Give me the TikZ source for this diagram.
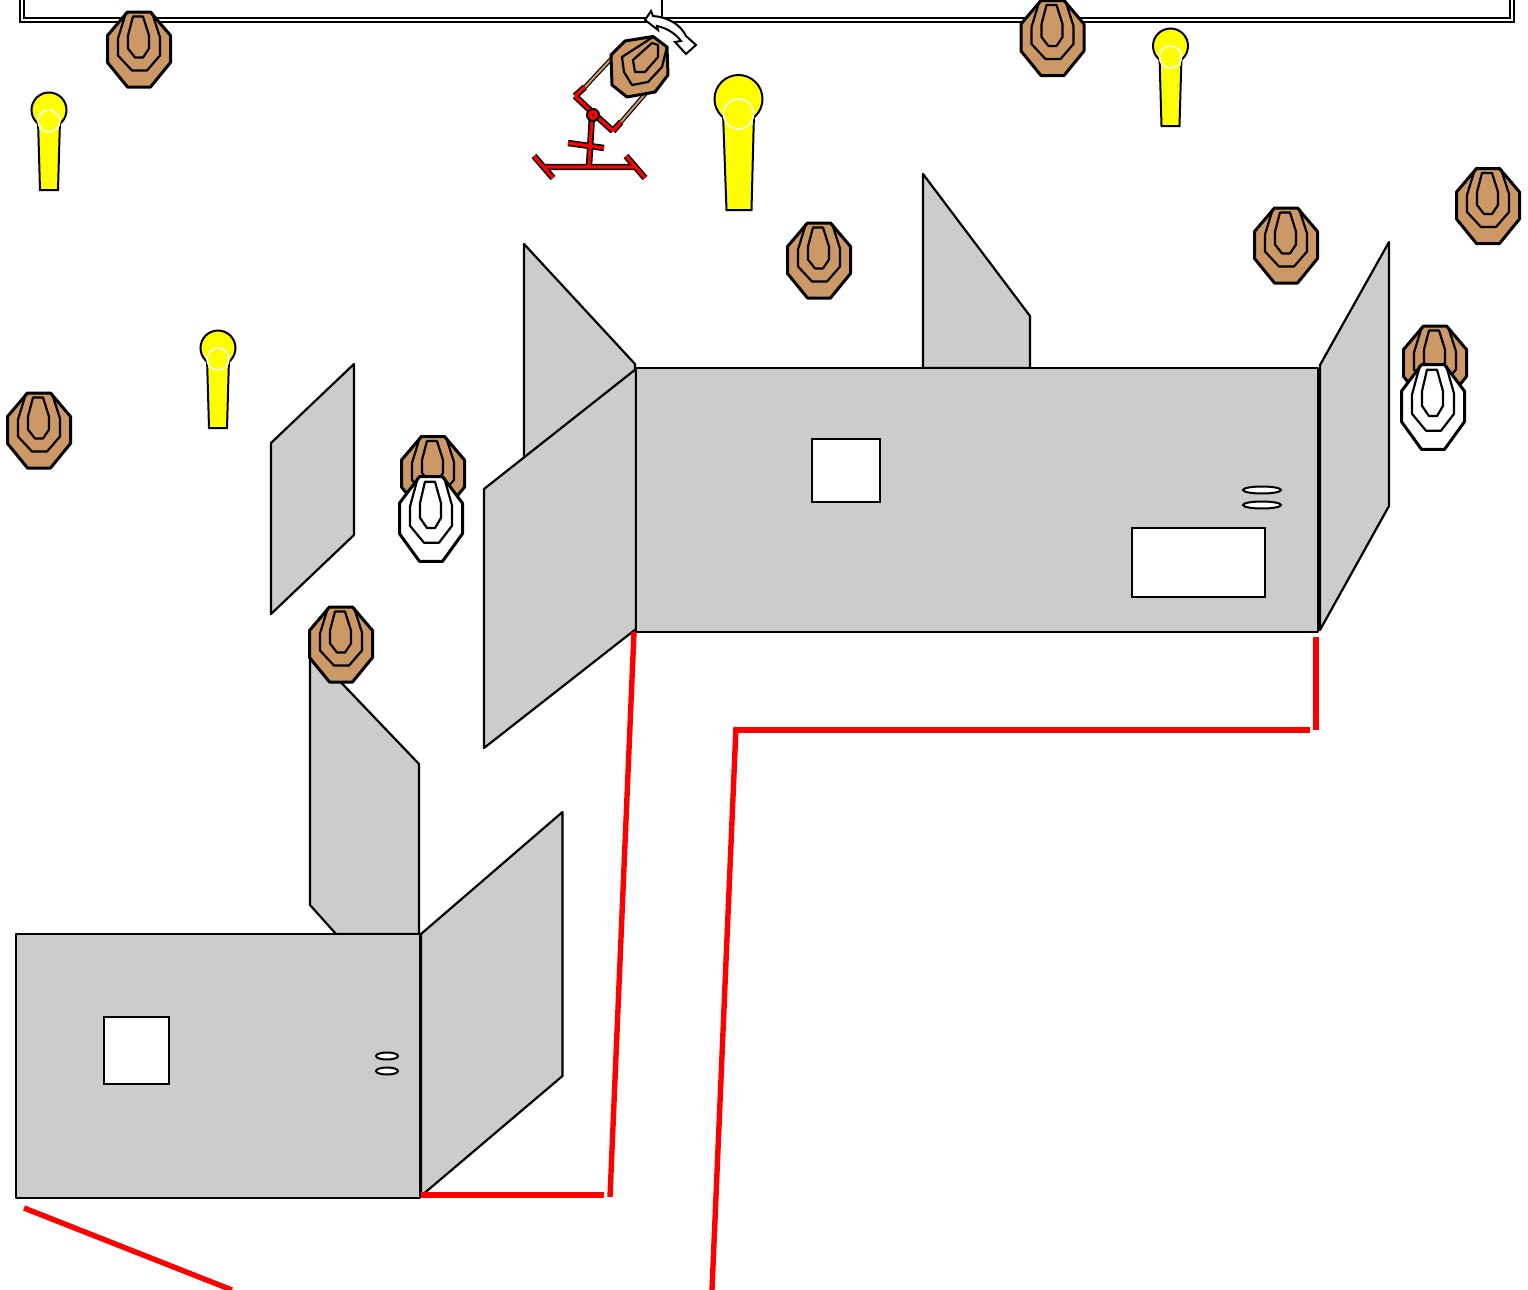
\documentclass[tikz,border=0pt]{standalone}
\definecolor{tan1}{HTML}{CC9966}
\definecolor{wallgray}{HTML}{CCCCCC}
\definecolor{popyellow}{HTML}{FFFF00}
\tikzset{
  wall/.style={draw=black,fill=wallgray,line width=1.1pt,line join=round},
  hole/.style={draw=black,fill=white,line width=1pt},
  faultline/.style={draw=red,line width=2.7pt},
  pics/shoottarget/.style={code={
    \draw[fill=#1,line width=1.5pt,line join=round] (-11.5,-37.5)--(11.5,-37.5)--(31.5,-14)--(31.5,13)--(11.5,37.5)--(-11.5,37.5)--(-31.5,13)--(-31.5,-14)--cycle;
    \draw[line width=1.1pt,line join=round] (-13,-37)--(-21,-11)--(-21,6)--(-7,21)--(8,21)--(21,6)--(21,-12)--(13,-37);
    \draw[line width=1.1pt,line join=round] (-6,-33)--(-11,-14)--(-11,-1)--(-4,8)--(4,8)--(10,-1)--(10,-14)--(4,-33)--cycle;
  }},
  pics/popper/.style={code={
    \draw[fill=popyellow,line width=1pt] (-11,10)--(-9,80)--(9,80)--(11,10)--cycle;
    \draw[fill=popyellow,line width=1pt] (0,0) circle (17.5);
    \fill[popyellow] (-10,8) rectangle (10,20);
    \draw[white,line width=.8pt] (0,11) circle (11);
  }},
  pics/bigpopper/.style={code={
    \draw[fill=popyellow,line width=1pt] (-15.5,14)--(-12,111)--(13,111)--(15.5,14)--cycle;
    \draw[fill=popyellow,line width=1pt] (0,0) circle (24);
    \fill[popyellow] (-14,12) rectangle (14,26);
    \draw[white,line width=.8pt] (0,15) circle (15);
  }}
}
\begin{document}
\begin{tikzpicture}[x=0.5pt,y=-0.5pt]
\useasboundingbox (0,0) rectangle (1528,1290);
% top wall
\draw[line width=1pt] (20,0)--(20,22)--(1514,22)--(1514,0);
\draw[line width=1pt] (24,0)--(24,18)--(1510,18)--(1510,0);
\draw[line width=1pt] (661.5,0)--(661.5,18);
% back walls
\draw[wall] (524,244)--(635,364)--(635,372)--(524,458)--cycle;
\draw[wall] (923,174)--(1030,316)--(1030,368)--(923,368)--cycle;
\draw[wall] (271,443)--(354,364)--(354,535)--(271,614)--cycle;
\draw[wall] (310,650)--(419,764)--(419,934)--(336,934)--(310,905)--cycle;
% main block
\draw[wall] (1320,365)--(1389,242)--(1389,506)--(1320,630)--cycle;
\draw[wall] (636,369)--(484,489)--(484,748)--(636,629)--cycle;
\draw[wall] (636,368) rectangle (1318,632);
\draw[hole] (812,439) rectangle (880,502);
\draw[hole] (1132,528) rectangle (1265,597);
\draw[hole] (1262,490) ellipse (19 and 3.5);
\draw[hole] (1262,505) ellipse (19 and 3.5);
% lower block
\draw[wall] (421,934)--(562.5,812)--(562.5,1076)--(421,1196)--cycle;
\draw[wall] (16,934) rectangle (420,1198);
\draw[hole] (104,1017) rectangle (169,1084);
\draw[hole] (387,1056) ellipse (11 and 3.5);
\draw[hole] (387,1071) ellipse (11 and 3.5);
% fault lines
\draw[faultline] (24,1208)--(232,1290);
\draw[faultline] (421,1195)--(604,1195);
\draw[faultline] (610,1197)--(634,632);
\draw[faultline] (712,1290)--(736,727);
\draw[faultline] (736,730)--(1310,730);
\draw[faultline] (1316,637)--(1316,730);
% targets
\pic at (139,49.5) {shoottarget=tan1};
\pic at (1052.5,38) {shoottarget=tan1};
\pic at (819,260.5) {shoottarget=tan1};
\pic at (1286,245.5) {shoottarget=tan1};
\pic at (1488,206) {shoottarget=tan1};
\pic at (39,430.5) {shoottarget=tan1};
\pic at (341,644.5) {shoottarget=tan1};
\pic at (1435,363.5) {shoottarget=tan1};
\pic[yscale=1.13] at (1433,407) {shoottarget=white};
\pic at (433,474) {shoottarget=tan1};
\pic[yscale=1.13] at (431,519) {shoottarget=white};
% poppers
\pic at (49,110) {popper};
\pic at (218,348) {popper};
\pic at (1170.5,46) {popper};
\pic at (738.5,99) {bigpopper};
% mover: stand
\draw[line width=3.2pt] (545,167)--(635,167) (534,156)--(553,178) (626,156)--(645,178)
  (589,166)--(592,115) (568,143)--(604,148) (575,96)--(593,113)--(613,131) (575,96)--(585,87) (613,131)--(621,122);
\draw[red,line width=1.6pt] (545,167)--(635,167) (534,156)--(553,178) (626,156)--(645,178)
  (589,166)--(592,115) (568,143)--(604,148) (575,96)--(593,113)--(613,131) (575,96)--(585,87) (613,131)--(621,122);
\draw[line width=2.2pt] (585,87)--(612,58) (621,122)--(646,93);
\draw[tan1,line width=1pt] (585,87)--(612,58) (621,122)--(646,93);
\draw[fill=red,line width=1pt] (593,115) circle (6);
\fill (593,115) circle (1.2);
% mover: turned target
\draw[fill=tan1,line width=1.5pt,line join=round] (625,41)--(653,36.5)--(667,47)--(668,75)--(655,92)--(627,97)--(612,85)--(611,55)--cycle;
\draw[line width=1.1pt,line join=round] (653,37)--(622,57)--(624,72)--(632,85)--(648,82)--(662,67)--(667,47);
\draw[line width=1.1pt,line join=round] (652,43)--(633,60)--(635,72)--(645,72)--(658,57)--(658,45)--cycle;
% mover: arrow
\draw[fill=white,line width=1pt,line join=miter] (645,20)--(651,11)--(653,16)
  .. controls (668,17) and (681,25) .. (686,36)--(696,45)--(686,54)--(675,42)--(681,41)
  .. controls (676,34) and (667,28) .. (657,26)--(658,30)--cycle;
\end{tikzpicture}
\end{document}
